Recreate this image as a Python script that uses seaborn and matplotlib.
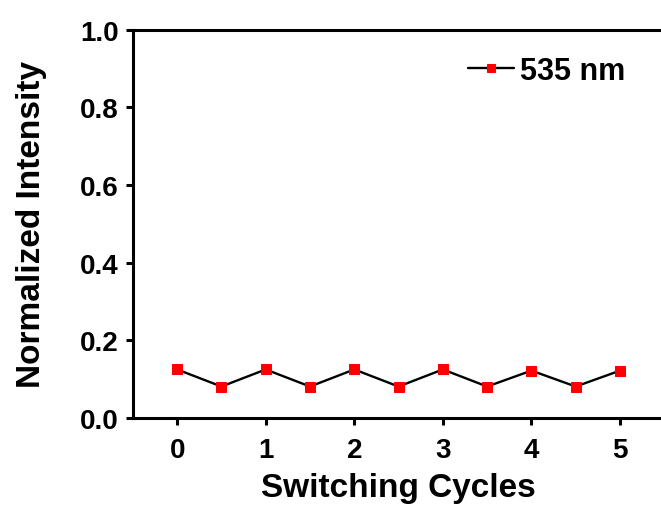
import matplotlib
matplotlib.use("Agg")
import matplotlib.pyplot as plt
import seaborn as sns

# switching cycle data (half cycles)
cycles = [0, 0.5, 1, 1.5, 2, 2.5, 3, 3.5, 4, 4.5, 5]
intensity = [0.125, 0.081, 0.125, 0.081, 0.125, 0.081, 0.125, 0.081, 0.122, 0.081, 0.122]
series_label = "535 nm"
x_ticks = [0, 1, 2, 3, 4, 5]
y_ticks = [0.0, 0.2, 0.4, 0.6, 0.8, 1.0]

sns.set_style("ticks")
plt.rcParams['font.family'] = ['Liberation Sans', 'DejaVu Sans']
plt.rcParams['font.weight'] = 'bold'
plt.rcParams['axes.labelweight'] = 'bold'
plt.rcParams['text.color'] = 'black'
plt.rcParams['axes.labelcolor'] = 'black'

fig = plt.figure(figsize=(6.61, 5.06), dpi=100)
ax = fig.add_axes([0.201, 0.172, 0.804, 0.767])

sns.lineplot(x=cycles, y=intensity, ax=ax, color='black', linewidth=1.7,
             marker='s', markersize=7, markerfacecolor='red',
             markeredgecolor='red', label=series_label)

ax.set_xlim(-0.5, 5.5)
ax.set_ylim(0, 1.0)
ax.set_xticks(x_ticks)
ax.set_yticks(y_ticks)
ax.set_yticklabels([f"{v:.1f}" for v in y_ticks])
ax.set_xlabel("Switching Cycles", fontsize=24, fontweight='bold', labelpad=6)
ax.set_ylabel("Normalized Intensity", fontsize=24, fontweight='bold', labelpad=24)

for side in ['left', 'bottom', 'top']:
    ax.spines[side].set_linewidth(2.2)
    ax.spines[side].set_color('black')
ax.spines['right'].set_visible(False)
ax.tick_params(axis='both', direction='out', length=5, width=2.2,
               labelsize=20, colors='black', pad=5)
ax.tick_params(axis='x', pad=9)
for lbl in ax.get_xticklabels() + ax.get_yticklabels():
    lbl.set_fontweight('bold')

ax.legend(loc='center left', bbox_to_anchor=(0.631, 0.894), frameon=False,
          handlelength=1.5, handletextpad=0.2, markerscale=0.9,
          borderpad=0, borderaxespad=0, prop={'weight': 'bold', 'size': 22})

fig.savefig("out.png", dpi=100)
